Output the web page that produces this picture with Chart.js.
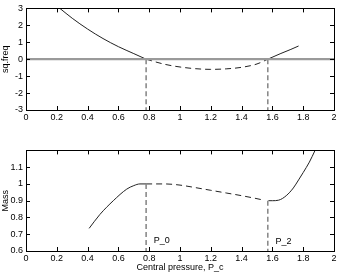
<!DOCTYPE html>
<html lang="en">
<head>
<meta charset="UTF-8" />
<title>Frequency and mass vs central pressure</title>
<script src="https://cdn.jsdelivr.net/npm/chart.js"></script>
<style>
    body { margin: 0; background: #fff; width: 341px; height: 273px; position: relative; overflow: hidden; }
    .box { position: absolute; left: 0; width: 341px; }
    #topBox { top: 0; height: 124px; }
    #botBox { top: 142px; height: 131px; }
</style>
</head>
<body>

<div class="box" id="topBox"><canvas id="freqChart"></canvas></div>
<div class="box" id="botBox"><canvas id="massChart"></canvas></div>

<script>
    // top panel: squared frequency
    const freqLeftX = [0.22, 0.3, 0.4, 0.5, 0.6, 0.7, 0.78];
    const freqLeftY = [3.0, 2.42, 1.78, 1.22, 0.74, 0.33, 0.0];
    const freqMidX = [0.78, 0.9, 1.0, 1.1, 1.2, 1.3, 1.4, 1.5, 1.57];
    const freqMidY = [0.0, -0.3, -0.46, -0.56, -0.6, -0.57, -0.48, -0.28, 0.0];
    const freqRightX = [1.57, 1.65, 1.72, 1.77];
    const freqRightY = [0.0, 0.32, 0.58, 0.78];

    // bottom panel: mass
    const massLeftX = [0.41, 0.48, 0.567, 0.654, 0.7, 0.74, 0.78];
    const massLeftY = [0.735, 0.818, 0.9, 0.969, 0.99, 1.0, 1.0];
    const massMidX = [0.78, 0.9, 1.0, 1.1, 1.2, 1.3, 1.4, 1.5, 1.54];
    const massMidY = [1.0, 1.0, 0.993, 0.978, 0.962, 0.946, 0.93, 0.912, 0.904];
    const massRightX = [1.574, 1.6, 1.64, 1.69, 1.736, 1.77, 1.8, 1.84, 1.877];
    const massRightY = [0.9, 0.9, 0.903, 0.93, 0.976, 1.024, 1.068, 1.13, 1.2];

    const criticalX = [0.78, 1.57];
    const criticalMass = [1.0, 0.9];
    const criticalNames = ['P_0', 'P_2'];
    const criticalNameY = [0.665, 0.655];

    const xTicks = [0, 0.2, 0.4, 0.6, 0.8, 1, 1.2, 1.4, 1.6, 1.8, 2];
    const freqTicks = [-3, -2, -1, 0, 1, 2, 3];
    const massTicks = [0.6, 0.7, 0.8, 0.9, 1, 1.1];

    const FONT = { family: 'Liberation Sans, Arial, sans-serif', size: 9 };

    function pts(xs, ys) {
        return xs.map((x, i) => ({ x: x, y: ys[i] }));
    }

    function curve(xs, ys, dashed) {
        return {
            data: pts(xs, ys),
            borderColor: '#222',
            borderWidth: 1,
            borderDash: dashed ? [6, 4] : [],
            pointRadius: 0,
            cubicInterpolationMode: 'monotone',
            fill: false
        };
    }

    function marker(x, y0, y1) {
        return {
            data: [{ x: x, y: y0 }, { x: x, y: y1 }],
            borderColor: '#8a8a8a',
            borderWidth: 1.6,
            borderDash: [5, 3],
            pointRadius: 0,
            tension: 0
        };
    }

    function fmt(v) {
        return String(Math.round(v * 10) / 10);
    }

    // matlab style box with inward ticks
    const boxTicks = {
        id: 'boxTicks',
        afterDraw(chart) {
            const ctx = chart.ctx;
            const a = chart.chartArea;
            const xs = chart.scales.x, ys = chart.scales.y;
            ctx.save();
            ctx.strokeStyle = '#000';
            ctx.lineWidth = 1;
            ctx.strokeRect(Math.round(a.left) + 0.5, Math.round(a.top) + 0.5,
                Math.round(a.right - a.left), Math.round(a.bottom - a.top));
            ctx.beginPath();
            xs.ticks.forEach(t => {
                const px = Math.round(xs.getPixelForValue(t.value)) + 0.5;
                ctx.moveTo(px, a.bottom); ctx.lineTo(px, a.bottom - 4);
                ctx.moveTo(px, a.top); ctx.lineTo(px, a.top + 4);
            });
            ys.ticks.forEach(t => {
                const py = Math.round(ys.getPixelForValue(t.value)) + 0.5;
                ctx.moveTo(a.left, py); ctx.lineTo(a.left + 4, py);
                ctx.moveTo(a.right, py); ctx.lineTo(a.right - 4, py);
            });
            ctx.stroke();

            const notes = chart.options.plugins.boxTicks.notes || [];
            ctx.fillStyle = '#000';
            ctx.font = '9px Liberation Sans, Arial, sans-serif';
            ctx.textBaseline = 'middle';
            notes.forEach(n => {
                ctx.fillText(n.text, xs.getPixelForValue(n.x), ys.getPixelForValue(n.y));
            });
            ctx.restore();
        }
    };

    function makeOptions(yMin, yMax, yTickList, yTitle, xTitle, xHeight, notes) {
        return {
            responsive: true,
            maintainAspectRatio: false,
            animation: false,
            layout: { padding: { top: 7, right: 7, left: 0, bottom: 0 } },
            plugins: {
                legend: { display: false },
                tooltip: { enabled: false },
                boxTicks: { notes: notes }
            },
            scales: {
                x: {
                    type: 'linear',
                    min: 0, max: 2,
                    afterBuildTicks: s => { s.ticks = xTicks.map(v => ({ value: v })); },
                    afterFit: s => { s.height = xHeight; },
                    grid: { display: false, drawTicks: false },
                    border: { display: false },
                    ticks: { color: '#000', font: FONT, padding: 2, maxRotation: 0, callback: v => fmt(v) },
                    title: { display: !!xTitle, text: xTitle, color: '#000', font: FONT, padding: { top: 0, bottom: 0 } }
                },
                y: {
                    type: 'linear',
                    min: yMin, max: yMax,
                    afterBuildTicks: s => { s.ticks = yTickList.map(v => ({ value: v })); },
                    afterFit: s => { s.width = 26; },
                    grid: { display: false, drawTicks: false },
                    border: { display: false },
                    ticks: { color: '#000', font: FONT, padding: 3, callback: v => fmt(v) },
                    title: { display: true, text: yTitle, color: '#000', font: FONT, padding: { top: 0, bottom: 0 } }
                }
            }
        };
    }

    new Chart(document.getElementById('freqChart'), {
        type: 'line',
        data: {
            datasets: [
                {
                    data: [{ x: 0, y: 0 }, { x: 2, y: 0 }],
                    borderColor: '#9a9a9a', borderWidth: 2.2, pointRadius: 0, tension: 0
                },
                curve(freqLeftX, freqLeftY, false),
                curve(freqMidX, freqMidY, true),
                curve(freqRightX, freqRightY, false),
                marker(criticalX[0], 0, -3),
                marker(criticalX[1], 0, -3)
            ]
        },
        options: makeOptions(-3, 3, freqTicks, 'sq.freq', '', 14, []),
        plugins: [boxTicks]
    });

    new Chart(document.getElementById('massChart'), {
        type: 'line',
        data: {
            datasets: [
                marker(criticalX[0], criticalMass[0], 0.6),
                marker(criticalX[1], criticalMass[1], 0.6),
                curve(massLeftX, massLeftY, false),
                curve(massMidX, massMidY, true),
                curve(massRightX, massRightY, false)
            ]
        },
        options: makeOptions(0.6, 1.2, massTicks, 'Mass', 'Central pressure, P_c', 22,
            criticalNames.map((t, i) => ({ text: t, x: criticalX[i] + 0.05, y: criticalNameY[i] }))),
        plugins: [boxTicks]
    });
</script>

</body>
</html>
